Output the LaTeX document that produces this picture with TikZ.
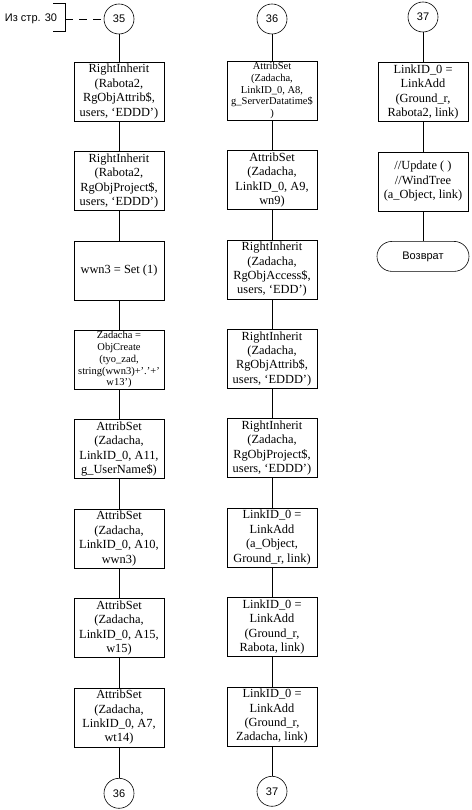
\documentclass[tikz,border=0pt]{standalone}
\usepackage{fontspec}
\setmainfont{Liberation Serif}
\setsansfont{Liberation Sans}
\usepackage{tikz}
\usetikzlibrary{arrows,positioning}

\begin{document}
\begin{tikzpicture}[x=1pt,y=1pt,node distance=89.4pt,semithick]
\tikzstyle{op}=[draw=black,rectangle,minimum width=90pt,minimum height=59pt,
                inner sep=0pt,align=center,font=\fontsize{12.4}{14.4}\selectfont]
\tikzstyle{small op}=[op,font=\fontsize{10.5}{11.8}\selectfont]
\tikzstyle{conn}=[draw=black,circle,minimum size=30pt,inner sep=0pt,
                  font=\sffamily\fontsize{11}{13}\selectfont]
\tikzstyle{term}=[draw=black,rectangle,rounded corners=15pt,minimum width=92pt,
                  minimum height=30pt,font=\sffamily\fontsize{11}{13}\selectfont]
\useasboundingbox (0,0) rectangle (471,-810);

% column 1
\node[conn] (c35) at (119,-19) {35};
\node[op] (a1) at (119,-91.5) {RightInherit\\(Rabota2,\\RgObjAttrib\$,\\users, ‘EDDD’)};
\node[op] (a2) [below of=a1] {RightInherit\\(Rabota2,\\RgObjProject\$,\\users, ‘EDDD’)};
\node[op] (a3) [below of=a2] {wwn3 = Set (1)};
\node[small op] (a4) [below of=a3] {Zadacha =\\ObjCreate\\(tyo\_zad,\\string(wwn3)+'.'+'\\w13')};
\node[op] (a5) [below of=a4] {AttribSet\\(Zadacha,\\LinkID\_0, A11,\\g\_UserName\$)};
\node[op] (a6) [below of=a5] {AttribSet\\(Zadacha,\\LinkID\_0, A10,\\wwn3)};
\node[op] (a7) [below of=a6] {AttribSet\\(Zadacha,\\LinkID\_0, A15,\\w15)};
\node[op] (a8) [below of=a7] {AttribSet\\(Zadacha,\\LinkID\_0, A7,\\wt14)};
\node[conn] (c36a) [below of=a8,node distance=76pt] {36};

% from page 30
\node[font=\sffamily\fontsize{11}{13}\selectfont] (from) at (31,-19) {Из стр. 30};
\coordinate (br) at (65,-19);
\draw (53,-3) -- (65,-3) -- (65,-31) -- (53,-31);
\draw[dash pattern=on 8pt off 6pt] (br) -- (c35);

% column 2
\node[conn] (c36b) at (272,-19) {36};
\node[small op] (b1) at (272,-90.5) {AttribSet\\(Zadacha,\\LinkID\_0, A8,\\g\_ServerDatatime\$\\)};
\node[op] (b2) [below of=b1] {AttribSet\\(Zadacha,\\LinkID\_0, A9,\\wn9)};
\node[op] (b3) [below of=b2] {RightInherit\\(Zadacha,\\RgObjAccess\$,\\users, ‘EDD’)};
\node[op] (b4) [below of=b3] {RightInherit\\(Zadacha,\\RgObjAttrib\$,\\users, ‘EDDD’)};
\node[op] (b5) [below of=b4] {RightInherit\\(Zadacha,\\RgObjProject\$,\\users, ‘EDDD’)};
\node[op] (b6) [below of=b5] {LinkID\_0 =\\LinkAdd\\(a\_Object,\\Ground\_r, link)};
\node[op] (b7) [below of=b6] {LinkID\_0 =\\LinkAdd\\(Ground\_r,\\Rabota, link)};
\node[op] (b8) [below of=b7] {LinkID\_0 =\\LinkAdd\\(Ground\_r,\\Zadacha, link)};
\node[conn] (c37a) [below of=b8,node distance=75pt] {37};

% column 3
\node[conn] (c37b) at (423,-17) {37};
\node[op] (c1) at (423,-92) {LinkID\_0 =\\LinkAdd\\(Ground\_r,\\Rabota2, link)};
\node[op] (c2) [below of=c1] {//Update ( )\\//WindTree\\(a\_Object, link)};
\node[term] (ret) [below of=c2,node distance=75pt] {Возврат};

\path (c35) edge (a1)
      (a1) edge (a2)
      (a2) edge (a3)
      (a3) edge (a4)
      (a4) edge (a5)
      (a5) edge (a6)
      (a6) edge (a7)
      (a7) edge (a8)
      (a8) edge (c36a);
\path (c36b) edge (b1)
      (b1) edge (b2)
      (b2) edge (b3)
      (b3) edge (b4)
      (b4) edge (b5)
      (b5) edge (b6)
      (b6) edge (b7)
      (b7) edge (b8)
      (b8) edge (c37a);
\path (c37b) edge (c1)
      (c1) edge (c2)
      (c2) edge (ret);
\end{tikzpicture}
\end{document}
